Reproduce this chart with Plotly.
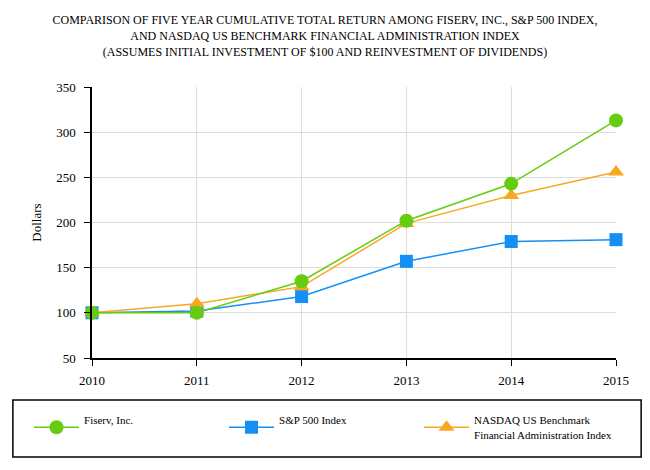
import plotly.graph_objects as go

years = [2010, 2011, 2012, 2013, 2014, 2015]
fiserv = [100, 100, 135, 202, 243, 313]
sp500 = [100, 102, 118, 157, 179, 181]
nasdaq = [100, 110, 129, 199, 230, 256]

names = ["Fiserv, Inc.<br> ", "S&P 500 Index<br> ", "NASDAQ US Benchmark<br>Financial Administration Index"]
colors = ["#66CC11", "#1490F5", "#F7A823"]
title_text = ("COMPARISON OF FIVE YEAR CUMULATIVE TOTAL RETURN AMONG FISERV, INC., S&P 500 INDEX,<br>"
              "AND NASDAQ US BENCHMARK FINANCIAL ADMINISTRATION INDEX<br>"
              "(ASSUMES INITIAL INVESTMENT OF $100 AND REINVESTMENT OF DIVIDENDS)")

FONT = "Liberation Serif"

fig = go.Figure()
fig.add_trace(go.Scatter(x=years, y=sp500, name=names[1], mode="lines+markers",
                         line=dict(color=colors[1], width=1.5),
                         marker=dict(symbol="square", size=13, color=colors[1]),
                         cliponaxis=False, legendrank=2))
fig.add_trace(go.Scatter(x=years, y=nasdaq, name=names[2], mode="lines+markers",
                         line=dict(color=colors[2], width=1.5),
                         marker=dict(symbol="triangle-up", size=14, color=colors[2]),
                         cliponaxis=False, legendrank=3))
fig.add_trace(go.Scatter(x=years, y=fiserv, name=names[0], mode="lines+markers",
                         line=dict(color=colors[0], width=1.5),
                         marker=dict(symbol="circle", size=14, color=colors[0]),
                         cliponaxis=False, legendrank=1))

fig.update_layout(
    width=650, height=470,
    margin=dict(l=92, r=34, t=87, b=112),
    paper_bgcolor="white", plot_bgcolor="white",
    font=dict(family=FONT, color="black", size=12),
    title=dict(text=title_text, x=0.5, xanchor="center", y=0.948, yanchor="top",
               font=dict(family=FONT, size=12, color="black")),
    xaxis=dict(range=[2010, 2015], tickmode="array", tickvals=years,
               showgrid=True, gridcolor="#DDDDDD", gridwidth=1,
               showline=True, linecolor="black", linewidth=1.5,
               ticks="outside", ticklen=6, tickcolor="black", ticklabelstandoff=4,
               tickfont=dict(size=13), zeroline=False, automargin=False),
    yaxis=dict(range=[50, 350], tickmode="array", tickvals=[50, 100, 150, 200, 250, 300, 350],
               showgrid=True, gridcolor="#DDDDDD", gridwidth=1,
               showline=True, linecolor="black", linewidth=1.5,
               ticks="outside", ticklen=6, tickcolor="black", ticklabelstandoff=6,
               tickfont=dict(size=13), zeroline=False, automargin=False,
               title=dict(text="Dollars", font=dict(size=13), standoff=12)),
    showlegend=True,
    legend=dict(orientation="h", x=-0.1202, xanchor="left", y=-0.179, yanchor="top",
                entrywidth=135, entrywidthmode="pixels", itemwidth=45,
                font=dict(family=FONT, size=11, color="black"),
                bgcolor="rgba(0,0,0,0)", borderwidth=0, valign="middle"),
    shapes=[dict(type="rect", xref="paper", yref="paper",
                 x0=-0.151, x1=1.048, y0=-0.365, y1=-0.155,
                 line=dict(color="black", width=1.5), fillcolor="rgba(0,0,0,0)")],
)

fig.write_html("out.html", config={"displayModeBar": False},
               post_script="document.body.style.margin='0';")
